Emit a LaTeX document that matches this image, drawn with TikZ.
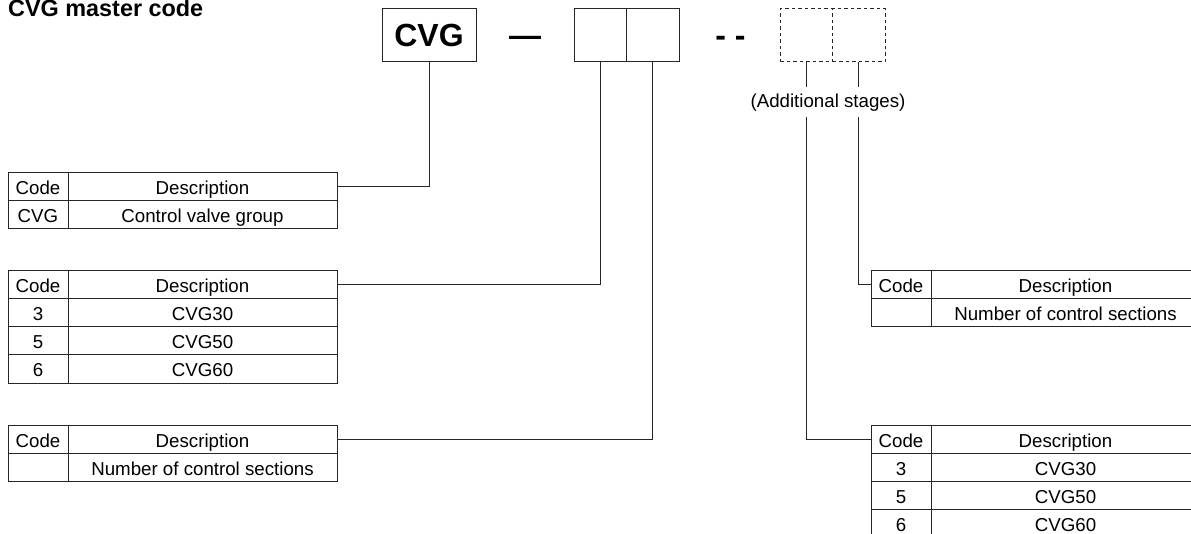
\documentclass[tikz,border=0pt]{standalone}
\usepackage{fontspec}
\setmainfont{Liberation Sans}
\begin{document}
\begin{tikzpicture}[x=1pt,y=-1pt,
  ln/.style={draw=black!85, line width=1pt, outer sep=0pt},
  conn/.style={draw=black!85, line width=1pt},
  tfont/.style={font=\fontsize{18.7}{22}\selectfont},
  cell/.style={ln, rectangle, inner sep=0pt, minimum height=28pt, text height=16pt, text depth=0pt, anchor=north west, tfont},
  codec/.style={cell, minimum width=60pt},
  descc/.style={cell, minimum width=269pt},
  bigfont/.style={font=\bfseries\fontsize{32}{36}\selectfont},
  slot/.style={ln, rectangle, inner sep=0pt, minimum width=52.5pt, minimum height=53pt, anchor=north west},
  dslot/.style={slot, dash pattern=on 3.5pt off 3pt}
]
\useasboundingbox (0,0) rectangle (1191,534);
\clip (0,0) rectangle (1191,534);

% title
\node[anchor=base west, inner sep=0pt, font=\bfseries\fontsize{23.4}{26}\selectfont] (title) at (8,17) {CVG master code};

% code boxes
\node[ln, rectangle, inner sep=0pt, minimum width=94pt, minimum height=53pt, anchor=north west] (cvg) at (382,9) {};
\node[anchor=base, inner sep=0pt, bigfont] (cvgtext) at (cvg.center |- 0,47) {CVG};
\node[anchor=base, inner sep=0pt, bigfont] (dash1) at (525,47) {—};
\node[slot] (b1) at (574,9) {};
\node[slot] (b2) at (b1.north east) {};
\node[anchor=base, inner sep=0pt, bigfont] (dash2) at (730.5,47) {- -};
\node[dslot] (d1) at (780,9) {};
\node[dslot] (d2) at (d1.north east) {};
\node[anchor=base, inner xsep=0pt, inner ysep=3pt, text height=18pt, text depth=6pt, tfont] (add) at (828,108) {(Additional stages)};

% table 1
\node[codec] (a1) at (8,173) {Code};
\node[descc] (a2) at (a1.north east) {Description};
\node[codec] (a3) at (a1.south west) {CVG};
\node[descc] (a4) at (a3.north east) {Control valve group};

% table 2
\node[codec] (p1) at (8,271) {Code};
\node[descc] (p2) at (p1.north east) {Description};
\node[codec] (p3) at (p1.south west) {3};
\node[descc] (p4) at (p3.north east) {CVG30};
\node[codec] (p5) at (p3.south west) {5};
\node[descc] (p6) at (p5.north east) {CVG50};
\node[codec] (p7) at (p5.south west) {6};
\node[descc] (p8) at (p7.north east) {CVG60};

% table 3
\node[codec] (q1) at (8,425) {Code};
\node[descc] (q2) at (q1.north east) {Description};
\node[codec] (q3) at (q1.south west) {};
\node[descc] (q4) at (q3.north east) {Number of control sections};

% table 5 (right, upper)
\node[codec] (e1) at (871,271) {Code};
\node[descc] (e2) at (e1.north east) {Description};
\node[codec] (e3) at (e1.south west) {};
\node[descc] (e4) at (e3.north east) {Number of control sections};

% table 6 (right, lower)
\node[codec] (f1) at (871,425) {Code};
\node[descc] (f2) at (f1.north east) {Description};
\node[codec] (f3) at (f1.south west) {3};
\node[descc] (f4) at (f3.north east) {CVG30};
\node[codec] (f5) at (f3.south west) {5};
\node[descc] (f6) at (f5.north east) {CVG50};
\node[codec] (f7) at (f5.south west) {6};
\node[descc] (f8) at (f7.north east) {CVG60};

% connectors
\draw[conn] (a2.east) -| (cvg.south);
\draw[conn] (p2.east) -| (b1.south);
\draw[conn] (q2.east) -| (b2.south);
\draw[conn] (d2.south) -- (d2.south |- add.north);
\draw[conn] (d2.south |- add.south) |- (e1.west);
\draw[conn] (d1.south) -- (d1.south |- add.north);
\draw[conn] (d1.south |- add.south) |- (f1.west);
\end{tikzpicture}
\end{document}
